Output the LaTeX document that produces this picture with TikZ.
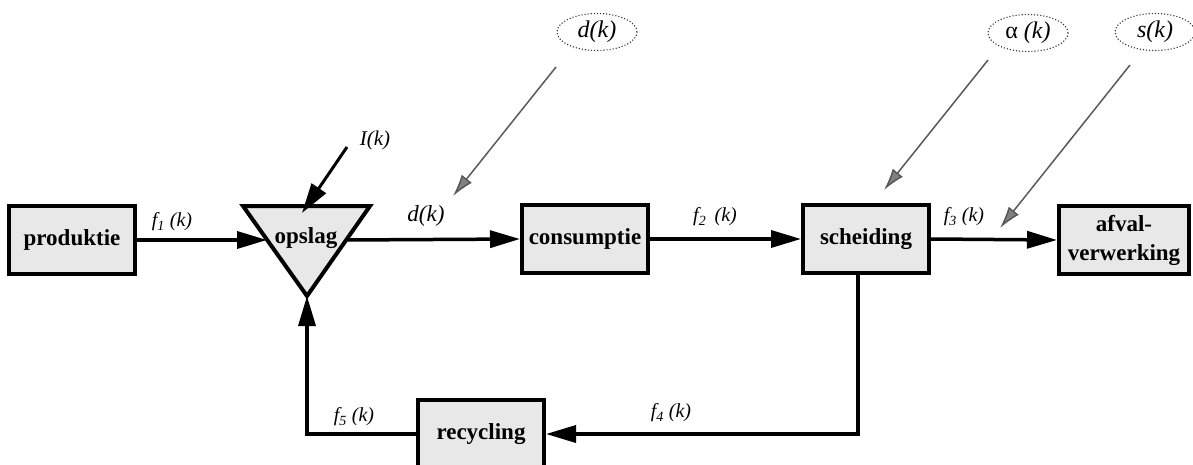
\documentclass[tikz,border=0pt]{standalone}
\usepackage{fontspec}
\setmainfont{Liberation Serif}
\usetikzlibrary{arrows.meta,shapes.geometric}

\begin{document}
\begin{tikzpicture}[x=1pt,y=-1pt,
  blok/.style={draw=black, line width=4pt, fill=black!9, minimum width=126pt,
    minimum height=68pt, inner sep=0pt, align=center,
    font=\fontsize{23}{29}\selectfont\bfseries},
  flow/.style={line width=3.5pt, -{Triangle[length=30pt,width=17pt]}},
  lab/.style={font=\fontsize{20}{22}\selectfont\itshape, inner sep=0pt},
  invoer/.style={draw=black!80, dotted, line width=1.1pt, ellipse,
    minimum width=80pt, minimum height=37pt, inner sep=0pt,
    font=\fontsize{24}{26}\selectfont\itshape},
  stoor/.style={draw=black!65, line width=1.5pt,
    -{Latex[length=22pt,width=13pt,fill=black!50]}}
]
\useasboundingbox (0,0) rectangle (1193,465);

% storage triangle
\coordinate (tA) at (243,206);
\coordinate (tB) at (370,206);
\coordinate (apex) at (307,296);
\filldraw[fill=black!9, draw=black, line width=4pt, line join=miter]
  (tA) -- (tB) -- (apex) -- cycle;
\node[font=\fontsize{23}{22}\selectfont\bfseries, inner sep=0pt] (opslag) at (306,238) {opslag};
\coordinate (tin) at (267,240);
\coordinate (tout) at (346,240);
\coordinate (ttop) at (302,213);

% process blocks
\node[blok] (produktie) at (72,240) {produktie};
\node[blok] (consumptie) at (585,239) {consumptie};
\node[blok] (scheiding) at (866,239) {scheiding};
\node[blok, minimum width=130pt] (afval) at (1124,240) {afval-\\verwerking};
\node[blok, minimum width=126pt] (recycling) at (481,434) {recycling};

% external inputs
\node[invoer] (ed) at (597,32) {d(k)};
\node[invoer] (ea) at (1028,33) {{\upshape α} (k)};
\node[invoer] (es) at (1155,32) {s(k)};
\node[lab, font=\fontsize{21}{22}\selectfont\itshape] (il) at (375,140) {I(k)};
\coordinate (ilstart) at (347,147);

\coordinate (dstart) at (556,67);
\coordinate (dtip) at (453,196);
\coordinate (astart) at (988,60);
\coordinate (atip) at (884,190);
\coordinate (sstart) at (1130,65);
\coordinate (stip) at (1000,228);

% main flows
\draw[flow] (produktie.east) -- (tin);
\draw[flow] (tout) -- (consumptie.west);
\draw[flow] (consumptie.east) -- (scheiding.west);
\draw[flow] (scheiding.east) -- (afval.west);
\coordinate (sdown) at (858,273);
\draw[flow, line join=miter] (sdown) |- (recycling.east);
\draw[flow, line join=miter] (recycling.west) -| (apex);
\draw[line width=3pt, -{Triangle[length=30pt,width=17pt]}] (ilstart) -- (ttop);

% disturbance inputs
\draw[stoor] (dstart) -- (dtip);
\draw[stoor] (astart) -- (atip);
\draw[stoor] (sstart) -- (stip);

% flow labels
\node[lab] (lf1) at (172,222) {f\textsubscript{1} (k)};
\node[lab, font=\fontsize{23}{24}\selectfont\itshape] (ld) at (426,216) {d(k)};
\node[lab] (lf2) at (715,217) {f\textsubscript{2}\, (k)};
\node[lab] (lf3) at (964,217) {f\textsubscript{3} (k)};
\node[lab] (lf4) at (671,413) {f\textsubscript{4} (k)};
\node[lab] (lf5) at (354,417) {f\textsubscript{5} (k)};
\end{tikzpicture}
\end{document}
